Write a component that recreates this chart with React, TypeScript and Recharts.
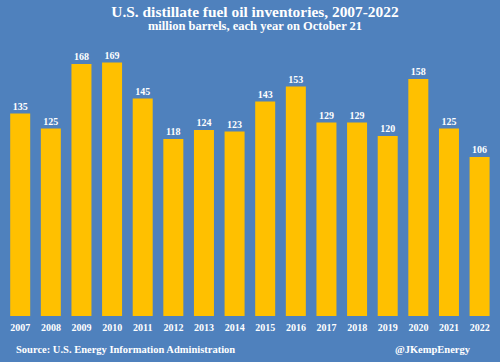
import { BarChart, Bar, XAxis, YAxis, LabelList } from "recharts";

const years = ["2007", "2008", "2009", "2010", "2011", "2012", "2013", "2014", "2015", "2016", "2017", "2018", "2019", "2020", "2021", "2022"];
const inventories = [135, 125, 168, 169, 145, 118, 124, 123, 143, 153, 129, 129, 120, 158, 125, 106];

const chartData = years.map((year, i) => ({ year, value: inventories[i] }));

const font = "'Liberation Serif', 'Times New Roman', serif";

export default function App() {
    return (
        <div style={{ position: "relative", width: 500, height: 362, background: "#4f81bd", fontFamily: font, color: "#fff", fontWeight: "bold" }}>
            <style>{`body{margin:0}`}</style>
            <div style={{ position: "absolute", top: 3, width: 510, textAlign: "center", fontSize: 15.4 }}>
                U.S. distillate fuel oil inventories, 2007-2022
            </div>
            <div style={{ position: "absolute", top: 19, width: 510, textAlign: "center", fontSize: 12.5 }}>
                million barrels, each year on October 21
            </div>
            <BarChart
                width={500}
                height={362}
                data={chartData}
                margin={{ top: 46, right: 5, left: 5, bottom: 16 }}
                barCategoryGap="17%"
            >
                <XAxis
                    dataKey="year"
                    tickLine={false}
                    axisLine={false}
                    interval={0}
                    height={30}
                    tick={{ fill: "#fff", fontSize: 10, fontWeight: "bold", fontFamily: font }}
                />
                <YAxis hide domain={[0, 180]} />
                <Bar dataKey="value" fill="#ffc000" isAnimationActive={false}>
                    <LabelList dataKey="value" position="top" offset={4} fill="#fff" fontSize={10} fontWeight="bold" fontFamily={font} />
                </Bar>
            </BarChart>
            <div style={{ position: "absolute", left: 16, top: 344, fontSize: 10.5 }}>
                Source: U.S. Energy Information Administration
            </div>
            <div style={{ position: "absolute", right: 30, top: 344, fontSize: 10.5 }}>
                @JKempEnergy
            </div>
        </div>
    );
}
